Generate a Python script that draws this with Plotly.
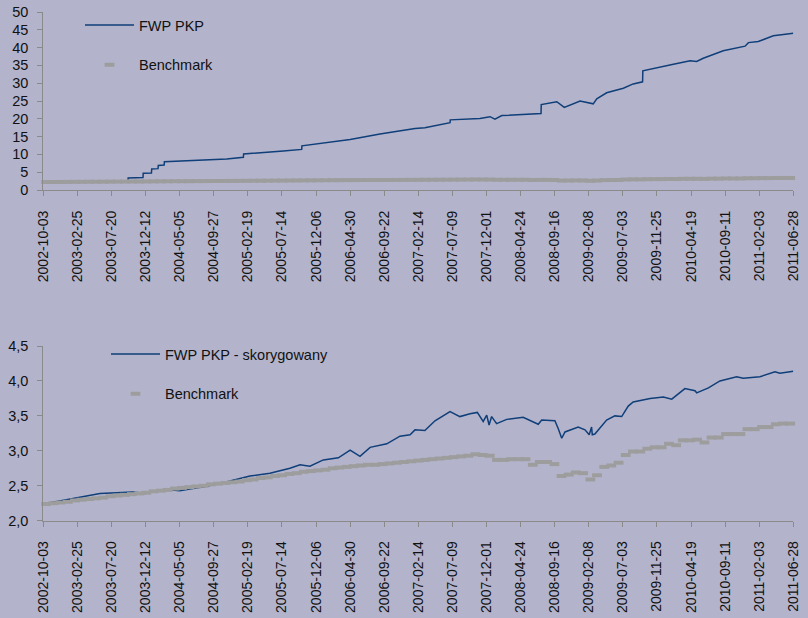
import plotly.graph_objects as go
import pandas as pd

# ---------------- data ----------------
tick_dates = ["2002-10-03", "2003-02-25", "2003-07-20", "2003-12-12", "2004-05-05",
              "2004-09-27", "2005-02-19", "2005-07-14", "2005-12-06", "2006-04-30",
              "2006-09-22", "2007-02-14", "2007-07-09", "2007-12-01", "2008-04-24",
              "2008-09-16", "2009-02-08", "2009-07-03", "2009-11-25", "2010-04-19",
              "2010-09-11", "2011-02-03", "2011-06-28"]

# FWP PKP (top chart)
fwp_dates = ["2002-10-03", "2003-03-01", "2003-09-28", "2003-09-29", "2003-12-01",
             "2003-12-02", "2004-01-06", "2004-01-07", "2004-02-03", "2004-02-04",
             "2004-02-29", "2004-03-01", "2004-07-30", "2004-11-21", "2005-01-31",
             "2005-02-01", "2005-07-20", "2005-10-06", "2005-10-07", "2005-11-25",
             "2006-04-30", "2006-09-04", "2007-01-31", "2007-03-14", "2007-06-29",
             "2007-06-30", "2007-11-03", "2007-12-16", "2008-01-06", "2008-02-04",
             "2008-07-20", "2008-07-21", "2008-09-25", "2008-10-27", "2009-01-02",
             "2009-02-27", "2009-03-14", "2009-04-25", "2009-07-05", "2009-08-16",
             "2009-09-25", "2009-09-26", "2009-11-24", "2010-02-03", "2010-04-15",
             "2010-05-13", "2010-06-10", "2010-09-03", "2010-12-05", "2010-12-19",
             "2011-01-30", "2011-04-04", "2011-06-28"]
fwp_values = [2.24, 2.30, 2.40, 3.40, 3.50,
              4.70, 4.80, 5.90, 6.00, 6.90,
              7.00, 7.95, 8.30, 8.70, 9.20,
              10.10, 10.95, 11.40, 12.40, 12.80,
              14.20, 15.70, 17.30, 17.50, 18.90,
              19.70, 20.10, 20.60, 19.90, 20.90,
              21.50, 24.00, 24.80, 23.20, 25.00,
              24.20, 25.60, 27.30, 28.60, 29.80,
              30.40, 33.50, 34.40, 35.30, 36.30,
              36.10, 37.00, 39.10, 40.40, 41.40,
              41.70, 43.30, 44.00]

# FWP PKP - skorygowany (bottom chart)
adj_dates = ["2002-10-03", "2003-01-25", "2003-06-01", "2003-10-19", "2003-12-10",
             "2004-03-04", "2004-05-05", "2004-08-21", "2004-11-14", "2005-02-28",
             "2005-05-24", "2005-08-17", "2005-09-29", "2005-11-10", "2006-01-06",
             "2006-03-11", "2006-04-30", "2006-06-11", "2006-07-24", "2006-10-03",
             "2006-11-28", "2007-01-10", "2007-01-31", "2007-03-14", "2007-04-26",
             "2007-06-29", "2007-08-10", "2007-09-22", "2007-10-23", "2007-11-17",
             "2007-12-02", "2007-12-12", "2007-12-23", "2008-01-13", "2008-02-25",
             "2008-05-05", "2008-07-08", "2008-07-23", "2008-09-17", "2008-10-01",
             "2008-10-16", "2008-10-30", "2008-12-25", "2009-01-23", "2009-02-10",
             "2009-02-20", "2009-02-23", "2009-03-06", "2009-04-25", "2009-05-30",
             "2009-06-28", "2009-07-26", "2009-08-16", "2009-10-27", "2009-12-22",
             "2010-01-27", "2010-03-24", "2010-05-06", "2010-05-13", "2010-07-02",
             "2010-08-20", "2010-10-30", "2010-11-27", "2011-02-06", "2011-04-11",
             "2011-05-02", "2011-06-14", "2011-06-28"]
adj_values = [2.24, 2.31, 2.39, 2.41, 2.39,
              2.45, 2.43, 2.49, 2.55, 2.64,
              2.68, 2.75, 2.80, 2.78, 2.87,
              2.90, 3.01, 2.92, 3.05, 3.10,
              3.21, 3.23, 3.30, 3.29, 3.43,
              3.56, 3.49, 3.53, 3.55, 3.42,
              3.51, 3.37, 3.49, 3.39, 3.45,
              3.48, 3.38, 3.44, 3.43, 3.32,
              3.18, 3.27, 3.34, 3.30, 3.23,
              3.34, 3.23, 3.24, 3.44, 3.50,
              3.49, 3.64, 3.70, 3.75, 3.77,
              3.74, 3.89, 3.86, 3.83, 3.90,
              4.00, 4.06, 4.04, 4.06, 4.13,
              4.11, 4.13, 4.14]

# Benchmark: monthly values, Oct 2002 .. Jun 2011
bench_start = "2002-10-01"
bench_values = [2.24, 2.25, 2.26, 2.27, 2.29, 2.30, 2.31, 2.32, 2.33, 2.35,
                2.36, 2.37, 2.38, 2.39, 2.40, 2.42, 2.43, 2.44, 2.46, 2.47,
                2.48, 2.49, 2.50, 2.52, 2.53, 2.54, 2.55, 2.56, 2.58, 2.59,
                2.61, 2.62, 2.64, 2.65, 2.67, 2.68, 2.70, 2.71, 2.72, 2.73,
                2.75, 2.76, 2.77, 2.78, 2.79, 2.80, 2.80, 2.81, 2.82, 2.83,
                2.84, 2.85, 2.86, 2.87, 2.88, 2.89, 2.90, 2.91, 2.92, 2.93,
                2.95, 2.94, 2.93, 2.87, 2.87, 2.88, 2.88, 2.88, 2.80, 2.84,
                2.84, 2.81, 2.64, 2.66, 2.69, 2.68, 2.59, 2.65, 2.77, 2.79,
                2.83, 2.94, 2.99, 2.99, 3.03, 3.05, 3.05, 3.10, 3.08, 3.15,
                3.15, 3.16, 3.12, 3.19, 3.19, 3.24, 3.24, 3.24, 3.31, 3.31,
                3.34, 3.34, 3.38, 3.39, 3.39]
bench_dates = pd.date_range(bench_start, periods=len(bench_values), freq="MS") + pd.Timedelta(days=14)

# ---------------- styling ----------------
BG = "#B3B4CC"
BLUE = "#0F3E78"
GREY = "#9D9D9D"
AXIS = "#8A8A8A"
FONT = "Liberation Sans, Arial, sans-serif"
FS = 14

fig = go.Figure()

fig.add_trace(go.Scatter(x=fwp_dates, y=fwp_values, mode="lines", name="FWP PKP",
                         line=dict(color=BLUE, width=1.5), xaxis="x", yaxis="y",
                         legend="legend", legendgroup="a"))
fig.add_trace(go.Scatter(x=bench_dates, y=bench_values, mode="markers", name="Benchmark",
                         marker=dict(symbol="line-ew", size=7, color=GREY,
                                     line=dict(width=4, color=GREY)),
                         cliponaxis=False, xaxis="x", yaxis="y",
                         legend="legend", legendgroup="b"))
fig.add_trace(go.Scatter(x=adj_dates, y=adj_values, mode="lines", name="FWP PKP - skorygowany",
                         line=dict(color=BLUE, width=1.5), xaxis="x2", yaxis="y2",
                         legend="legend2", legendgroup="c"))
fig.add_trace(go.Scatter(x=bench_dates, y=bench_values, mode="markers", name="Benchmark",
                         marker=dict(symbol="line-ew", size=7, color=GREY,
                                     line=dict(width=4, color=GREY)),
                         cliponaxis=False, xaxis="x2", yaxis="y2",
                         legend="legend2", legendgroup="d"))

W, H = 808, 618
xdom = [43.3 / W, 793.3 / W]

xcommon = dict(type="date", range=[tick_dates[0], tick_dates[-1]],
               tickmode="array", tickvals=tick_dates, ticktext=tick_dates,
               tickangle=-90, ticks="outside", ticklen=5, tickcolor=AXIS, tickwidth=1,
               showline=True, linecolor=AXIS, linewidth=1, showgrid=False, zeroline=False,
               tickfont=dict(family=FONT, size=FS, color="#111111"),
               automargin=False, ticklabelstandoff=9, domain=xdom)
ycommon = dict(ticks="outside", ticklen=5, tickcolor=AXIS, tickwidth=1,
               showline=True, linecolor=AXIS, linewidth=1, showgrid=False, zeroline=False,
               tickfont=dict(family=FONT, size=14.5, color="#111111"),
               automargin=False, ticklabelstandoff=6)

legcommon = dict(xanchor="left", yanchor="top", bgcolor="rgba(0,0,0,0)",
                 font=dict(family=FONT, size=14.5, color="#111111"),
                 itemwidth=49, tracegroupgap=18, itemclick=False)

fig.update_layout(
    width=W, height=H,
    margin=dict(l=0, r=0, t=0, b=0),
    paper_bgcolor=BG, plot_bgcolor=BG,
    separators=", ",
    showlegend=True,
    hovermode=False,
    xaxis=dict(**xcommon, anchor="y"),
    yaxis=dict(**ycommon, range=[0, 50], dtick=5, tick0=0,
               domain=[(H - 190) / H, (H - 12) / H], anchor="x"),
    xaxis2=dict(**xcommon, anchor="y2"),
    yaxis2=dict(**ycommon, range=[2.0, 4.5], dtick=0.5, tick0=2.0, tickformat=".1f",
                domain=[(H - 520.7) / H, (H - 346) / H], anchor="x2"),
    legend=dict(**legcommon, x=80 / W, y=(H - 9) / H),
    legend2=dict(**legcommon, x=106 / W, y=(H - 338) / H),
)

fig.write_html("out.html",
               config={"displayModeBar": False},
               post_script="document.body.style.margin='0px';document.body.style.background='%s';" % BG)
